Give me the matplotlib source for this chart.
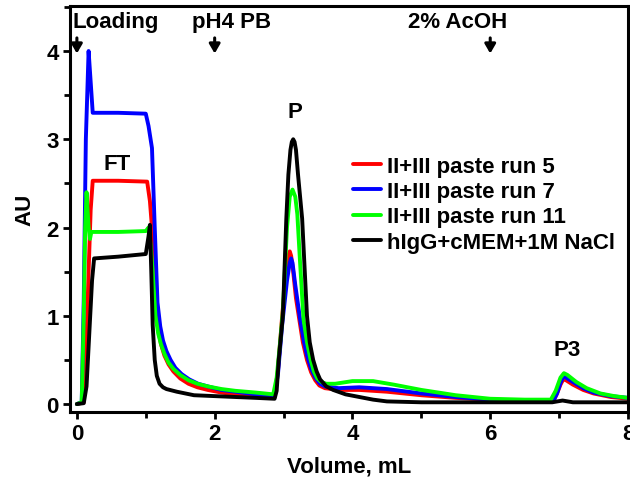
import matplotlib
matplotlib.use("Agg")
import matplotlib.pyplot as plt
from matplotlib.ticker import MultipleLocator

plt.rcParams['font.family'] = ['Liberation Sans', 'DejaVu Sans']
plt.rcParams['font.weight'] = 'bold'

# ---- data ----
red_x = [0, 0.1, 0.13, 0.17, 0.2, 0.23, 0.6, 1.02, 1.06, 1.1, 1.14, 1.18, 1.22, 1.27, 1.33, 1.4, 1.5, 1.62, 1.75, 1.9,
         2.1, 2.3, 2.6, 2.87, 2.92, 2.98, 3.04, 3.07, 3.09, 3.11, 3.14, 3.18, 3.23, 3.28, 3.34, 3.4, 3.46, 3.52, 3.6,
         3.8, 4.1, 4.5, 5.0, 5.5, 6.0, 6.5, 6.92, 6.97, 7.02, 7.06, 7.1, 7.2, 7.35, 7.5, 7.75, 8.0]
red_y = [0, 0.02, 0.5, 1.5, 2.2, 2.53, 2.53, 2.52, 2.3, 1.9, 1.2, 0.85, 0.68, 0.55, 0.45, 0.37, 0.29, 0.23, 0.19, 0.16,
         0.13, 0.11, 0.09, 0.08, 0.4, 1.0, 1.5, 1.68, 1.73, 1.68, 1.5, 1.2, 0.95, 0.7, 0.5, 0.36, 0.27, 0.21, 0.18,
         0.16, 0.16, 0.14, 0.1, 0.07, 0.05, 0.04, 0.04, 0.12, 0.22, 0.28, 0.27, 0.22, 0.16, 0.12, 0.08, 0.06]

blue_x = [0, 0.07, 0.1, 0.13, 0.17, 0.2, 0.23, 0.6, 1.0, 1.04, 1.09, 1.13, 1.17, 1.21, 1.25, 1.3, 1.36, 1.43, 1.52,
          1.63, 1.76, 1.9, 2.1, 2.3, 2.6, 2.87, 2.92, 2.98, 3.05, 3.09, 3.11, 3.13, 3.17, 3.24, 3.29, 3.34, 3.4, 3.46,
          3.53, 3.6, 3.8, 4.1, 4.5, 5.0, 5.5, 6.0, 6.5, 6.92, 6.97, 7.02, 7.06, 7.1, 7.2, 7.35, 7.5, 7.75, 8.0]
blue_y = [0, 0.02, 1.2, 3.0, 4.0, 3.65, 3.3, 3.3, 3.29, 3.15, 2.9, 2.0, 1.15, 0.88, 0.72, 0.6, 0.5, 0.41, 0.34,
          0.28, 0.23, 0.2, 0.16, 0.14, 0.11, 0.09, 0.35, 0.9, 1.4, 1.6, 1.65, 1.6, 1.35, 0.96, 0.73, 0.55, 0.4, 0.3,
          0.23, 0.2, 0.18, 0.19, 0.17, 0.12, 0.08, 0.05, 0.04, 0.04, 0.12, 0.24, 0.31, 0.3, 0.25, 0.18, 0.13, 0.09, 0.07]

green_x = [0, 0.07, 0.1, 0.12, 0.14, 0.17, 0.19, 0.21, 0.6, 1.0, 1.04, 1.07, 1.1, 1.14, 1.18, 1.22, 1.27, 1.33, 1.4,
           1.5, 1.62, 1.75, 1.9, 2.1, 2.3, 2.6, 2.85, 2.9, 2.95, 2.99, 3.05, 3.09, 3.13, 3.17, 3.2, 3.24, 3.29, 3.34,
           3.39, 3.44, 3.49, 3.55, 3.62, 3.75, 4.0, 4.3, 4.6, 5.0, 5.5, 6.0, 6.5, 6.88, 6.95, 7.02, 7.07, 7.12, 7.25,
           7.4, 7.6, 7.8, 8.0]
green_y = [0, 0.02, 1.0, 2.0, 2.4, 2.0, 1.87, 1.95, 1.95, 1.96, 2.0, 1.8, 1.5, 1.0, 0.8, 0.68, 0.57, 0.47, 0.4,
           0.33, 0.27, 0.23, 0.2, 0.17, 0.15, 0.13, 0.11, 0.3, 0.7, 1.05, 2.0, 2.35, 2.43, 2.35, 2.15, 1.6, 0.96, 0.7,
           0.51, 0.37, 0.29, 0.25, 0.23, 0.23, 0.26, 0.26, 0.22, 0.16, 0.1, 0.06, 0.05, 0.05, 0.15, 0.3, 0.35, 0.33,
           0.25, 0.18, 0.12, 0.09, 0.07]

black_x = [0, 0.1, 0.14, 0.18, 0.22, 0.25, 0.6, 1.0, 1.04, 1.06, 1.08, 1.1, 1.13, 1.16, 1.2, 1.25, 1.3, 1.45, 1.7,
           2.0, 2.3, 2.6, 2.87, 2.9, 2.93, 2.99, 3.04, 3.07, 3.1, 3.12, 3.14, 3.16, 3.18, 3.21, 3.27, 3.34, 3.38, 3.43,
           3.48, 3.53, 3.62, 3.72, 3.9, 4.1, 4.3, 4.5, 5.0, 6.0, 6.9, 7.05, 7.2, 8.0]
black_y = [0, 0.01, 0.2, 0.8, 1.4, 1.65, 1.67, 1.7, 1.9, 2.03, 1.5, 0.9, 0.5, 0.32, 0.23, 0.19, 0.17, 0.14, 0.1,
           0.09, 0.08, 0.07, 0.06, 0.15, 0.5, 1.0, 2.1, 2.6, 2.88, 2.97, 3.0, 2.97, 2.88, 2.6, 2.1, 1.0, 0.7, 0.5,
           0.37, 0.28, 0.2, 0.16, 0.11, 0.08, 0.05, 0.03, 0.02, 0.02, 0.02, 0.04, 0.02, 0.02]

labels = ['II+III paste run 5', 'II+III paste run 7', 'II+III paste run 11', 'hIgG+cMEM+1M NaCl']
colors = ['#ff0000', '#0000ff', '#00ff00', '#000000']

events = ['Loading', 'pH4 PB', '2% AcOH']
event_x = [0.0, 2.0, 6.0]

peaks = ['FT', 'P', 'P3']

# ---- figure ----
W, H = 630, 481
FS = 16
fig = plt.figure(figsize=(W / 100, H / 100), dpi=100)
ax = fig.add_axes([70 / W, 1 - 413 / H, 558 / W, 406 / H])

lw = 2.8
for xs, ys, c, lab in zip([red_x, blue_x, green_x, black_x], [red_y, blue_y, green_y, black_y], colors, labels):
    ax.plot(xs, ys, color=c, lw=lw, label=lab, solid_joinstyle='round', solid_capstyle='round')

ax.set_xlim(-0.1, 8.0)
ax.set_ylim(-0.09, 4.51)
ax.xaxis.set_major_locator(MultipleLocator(2))
ax.xaxis.set_minor_locator(MultipleLocator(1))
ax.yaxis.set_major_locator(MultipleLocator(1))
ax.yaxis.set_minor_locator(MultipleLocator(0.5))
ax.tick_params(which='major', direction='out', length=5, width=2, labelsize=FS, pad=3)
ax.tick_params(which='minor', direction='out', length=4, width=2)
for lbl in ax.get_xticklabels() + ax.get_yticklabels():
    lbl.set_fontweight('bold')
for s in ax.spines.values():
    s.set_linewidth(2.2)

ax.set_xlabel('Volume, mL', fontsize=FS, fontweight='bold', labelpad=8)
ax.set_ylabel('AU', fontsize=FS, fontweight='bold', labelpad=8)

# event annotations
ev_text_x = [0.57, 2.24, 5.52]
for name, ex, tx in zip(events, event_x, ev_text_x):
    ax.text(tx, 4.34, name, ha='center', va='center', fontsize=FS, fontweight='bold')
    ax.annotate('', xy=(ex, 3.94), xytext=(ex, 4.18),
                arrowprops=dict(arrowstyle='-|>,head_length=0.55,head_width=0.32', color='black', lw=2.2))

peak_pos = [(0.58, 2.72), (3.17, 3.31), (7.12, 0.62)]
for name, (px, py) in zip(peaks, peak_pos):
    ax.text(px, py, name, ha='center', va='center', fontsize=FS, fontweight='bold')

leg = ax.legend(loc='upper left', bbox_to_anchor=(353 / W, 1 - 157 / H), bbox_transform=fig.transFigure,
                frameon=False, fontsize=FS, handlelength=1.27, handletextpad=0.27, labelspacing=0.19,
                borderpad=0, borderaxespad=0)
for t in leg.get_texts():
    t.set_fontweight('bold')

fig.savefig('out.png', dpi=100)
